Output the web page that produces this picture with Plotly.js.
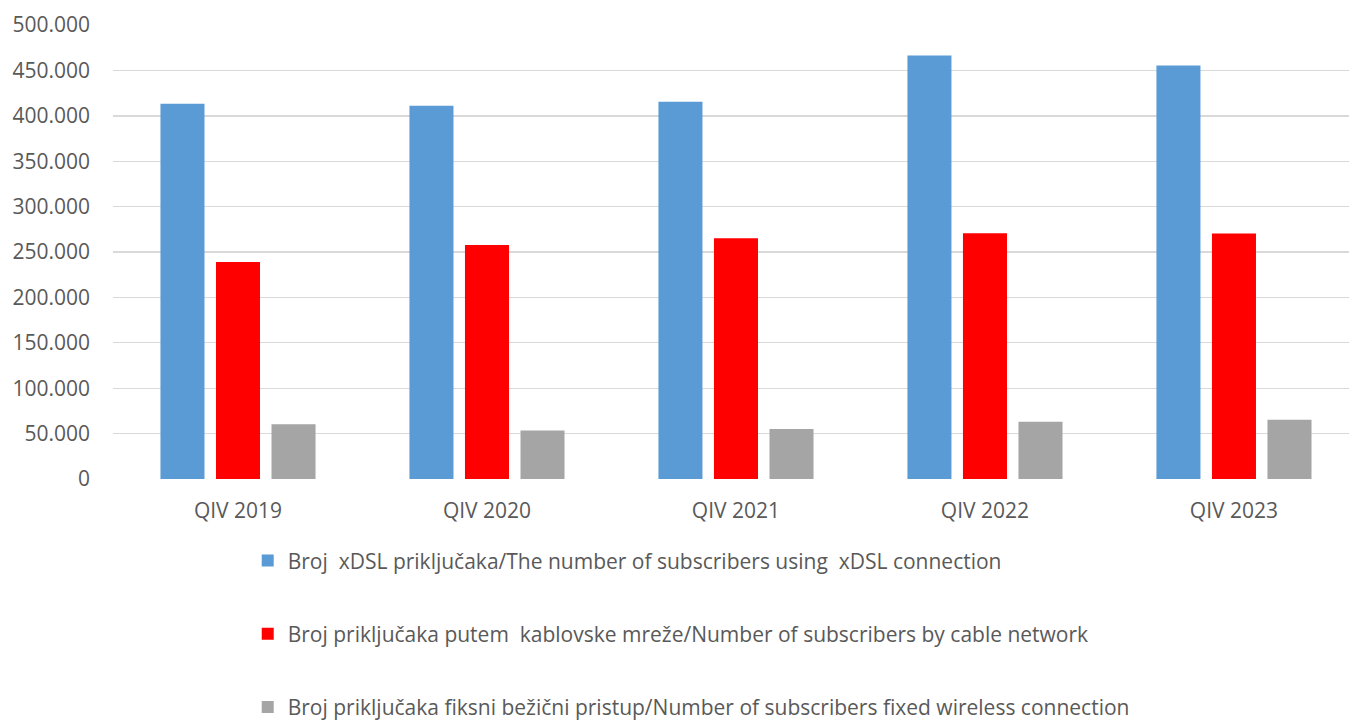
<!DOCTYPE html>
<html>
<head>
<meta charset="utf-8">
<script src="https://cdn.plot.ly/plotly-3.0.1.min.js"></script>
<style>html,body{margin:0;padding:0;background:#fff;}#chart{width:1349px;height:722px;}</style>
</head>
<body>
<div id="chart"></div>
<script>
const categories = ["QIV 2019", "QIV 2020", "QIV 2021", "QIV 2022", "QIV 2023"];
const xdslValues = [413400, 411200, 415600, 466300, 455300];
const cableValues = [239000, 257700, 265100, 270600, 270300];
const wirelessValues = [60200, 53300, 55200, 63000, 65200];
const seriesNames = [
  "Broj  xDSL priključaka/The number of subscribers using  xDSL connection",
  "Broj priključaka putem  kablovske mreže/Number of subscribers by cable network",
  "Broj priključaka fiksni bežični pristup/Number of subscribers fixed wireless connection"
];
const yTickValues = [0, 50000, 100000, 150000, 200000, 250000, 300000, 350000, 400000, 450000, 500000];

const colors = ["#5B9BD5", "#FF0000", "#A5A5A5"];
const series = [xdslValues, cableValues, wirelessValues];
const idx = categories.map((c, i) => i);

const traces = series.map((vals, s) => ({
  type: "bar",
  x: idx,
  y: vals,
  name: seriesNames[s],
  legendgroup: "g" + s,
  marker: {color: colors[s]},
  hoverinfo: "y"
}));

const tickFont = {family: "Open Sans, sans-serif", size: 21, color: "#595959"};

const layout = {
  width: 1349,
  height: 722,
  margin: {l: 113, r: 0, t: 25, b: 243, autoexpand: false},
  paper_bgcolor: "#ffffff",
  plot_bgcolor: "#ffffff",
  separators: ",.",
  barmode: "group",
  bargap: 0.331,
  bargroupgap: 0.207,
  xaxis: {
    tickmode: "array",
    tickvals: idx,
    ticktext: categories,
    range: [-0.502, 4.462],
    showgrid: false,
    zeroline: false,
    showline: false,
    ticks: "",
    tickfont: tickFont,
    ticklabelstandoff: 17
  },
  yaxis: {
    range: [0, 500000],
    tickmode: "array",
    tickvals: yTickValues,
    tickformat: ",d",
    showgrid: true,
    gridcolor: "#D9D9D9",
    gridwidth: 1.4,
    zeroline: false,
    showline: false,
    ticks: "",
    tickfont: tickFont,
    ticklabelstandoff: 22
  },
  showlegend: true,
  legend: {
    orientation: "v",
    x: 0.109,
    xanchor: "left",
    y: -0.135,
    yanchor: "top",
    tracegroupgap: 43,
    font: {family: "Open Sans, sans-serif", size: 21, color: "#595959"},
    bgcolor: "rgba(0,0,0,0)"
  }
};

Plotly.newPlot("chart", traces, layout, {displayModeBar: false, staticPlot: true});
</script>
</body>
</html>
